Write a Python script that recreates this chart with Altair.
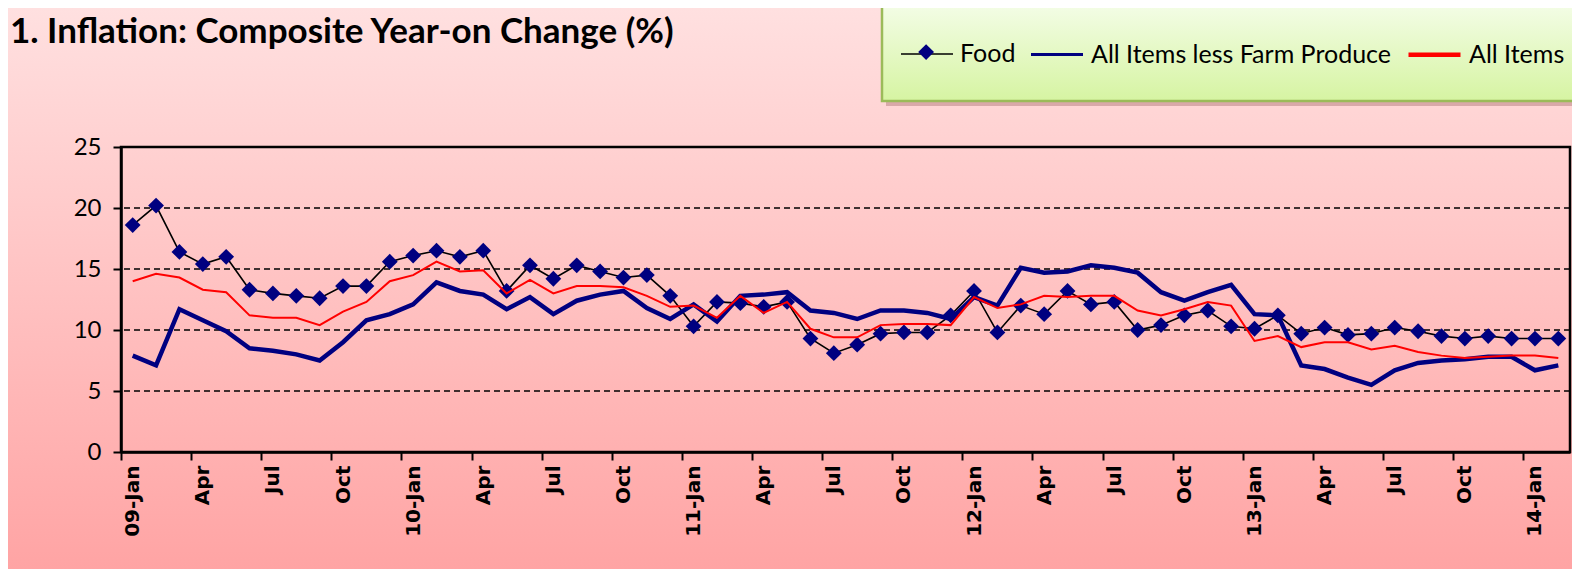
import altair as alt
import pandas as pd

# ---------------- data ----------------
years = ["09", "10", "11", "12", "13", "14"]
mon = ["Jan", "Feb", "Mar", "Apr", "May", "Jun", "Jul", "Aug", "Sep", "Oct", "Nov", "Dec"]
months = [f"{y}-{m}" for y in years for m in mon][:62]

series_names = ["Food", "All Items less Farm Produce", "All Items"]

food = [18.6, 20.2, 16.4, 15.4, 16.0, 13.3, 13.0, 12.8, 12.6, 13.6, 13.6, 15.6,
        16.1, 16.5, 16.0, 16.5, 13.2, 15.3, 14.2, 15.3, 14.8, 14.3, 14.5, 12.8,
        10.3, 12.3, 12.2, 11.9, 12.3, 9.3, 8.1, 8.8, 9.7, 9.8, 9.8, 11.2,
        13.2, 9.8, 12.0, 11.3, 13.2, 12.1, 12.3, 10.0, 10.4, 11.2, 11.6, 10.3,
        10.1, 11.2, 9.7, 10.2, 9.6, 9.7, 10.2, 9.9, 9.5, 9.3, 9.5, 9.3,
        9.3, 9.3]

less_farm = [7.9, 7.1, 11.7, 10.8, 9.9, 8.5, 8.3, 8.0, 7.5, 9.0, 10.8, 11.3,
             12.1, 13.9, 13.2, 12.9, 11.7, 12.7, 11.3, 12.4, 12.9, 13.2, 11.8, 10.9,
             12.1, 10.7, 12.8, 12.9, 13.1, 11.6, 11.4, 10.9, 11.6, 11.6, 11.4, 10.9,
             12.7, 12.0, 15.1, 14.7, 14.8, 15.3, 15.1, 14.7, 13.1, 12.4, 13.1, 13.7,
             11.3, 11.2, 7.1, 6.8, 6.1, 5.5, 6.7, 7.3, 7.5, 7.6, 7.8, 7.8,
             6.7, 7.1]

all_items = [14.0, 14.6, 14.3, 13.3, 13.1, 11.2, 11.0, 11.0, 10.4, 11.5, 12.3, 14.0,
             14.5, 15.6, 14.8, 14.9, 13.0, 14.1, 13.0, 13.6, 13.6, 13.5, 12.8, 11.9,
             12.0, 11.0, 12.8, 11.4, 12.3, 10.1, 9.4, 9.4, 10.4, 10.5, 10.5, 10.4,
             12.7, 11.8, 12.1, 12.8, 12.7, 12.8, 12.8, 11.6, 11.2, 11.7, 12.3, 12.0,
             9.1, 9.5, 8.6, 9.0, 9.0, 8.4, 8.7, 8.2, 7.9, 7.7, 7.8, 7.9,
             7.9, 7.7]

tick_labels = ["09-Jan", "Apr", "Jul", "Oct", "10-Jan", "Apr", "Jul", "Oct",
               "11-Jan", "Apr", "Jul", "Oct", "12-Jan", "Apr", "Jul", "Oct",
               "13-Jan", "Apr", "Jul", "Oct", "14-Jan"]
y_ticks = [0, 5, 10, 15, 20, 25]
grid_vals = [5, 10, 15, 20]

title_text = "1. Inflation: Composite Year-on Change (%)"

rows = []
for name, vals in zip(series_names, [food, less_farm, all_items]):
    for i, v in enumerate(vals):
        rows.append({"idx": i, "month": months[i], "value": v, "series": name})
df = pd.DataFrame(rows)

# ---------------- layout ----------------
PL, PT, PR, PB = 113, 139, 2, 117
W, H = 1449, 305
n = len(months)
band = W / n

LX, LY, LPAD, LSYM = 763, -137, 16, 52   # legend position (relative to plot) and sizes
DSIZE = 250                              # diamond marker area
DHALF = DSIZE ** 0.5 / 2

tick_vals = [-0.5 + 3 * k for k in range(len(tick_labels))]
label_expr = "[" + ",".join(f"'{t}'" for t in tick_labels) + "][round((datum.value + 0.5) / 3)]"

x_axis = alt.Axis(values=tick_vals, labelExpr=label_expr, labelAngle=270, labelAlign="right",
                  labelBaseline="middle", labelOffset=band / 2, labelFont="DejaVu Sans",
                  labelFontWeight="bold", labelFontSize=20, labelColor="black",
                  labelPadding=5, tickSize=8, tickWidth=2, tickColor="black",
                  domainWidth=2.5, domainColor="black", grid=False, title=None,
                  labelOverlap=False, labelFlush=False, zindex=1)
x_scale = alt.Scale(domain=[-0.5, n - 0.5], nice=False, zero=False)

y_axis = alt.Axis(values=y_ticks, grid=False, tickSize=8, tickWidth=2, tickColor="black",
                  domainWidth=2.5, domainColor="black", labelFont="Lato", labelFontSize=24,
                  labelColor="black", labelPadding=12, title=None, zindex=1)
y_scale = alt.Scale(domain=[0, 25], nice=False, zero=True)

color_scale = alt.Scale(domain=series_names, range=["#000000", "#000080", "#FF0000"])
width_scale = alt.Scale(domain=series_names, range=[1.6, 4.5, 2.0])

legend = alt.Legend(
    orient="none", legendX=LX, legendY=LY, direction="horizontal", title=None,
    labelFont="Lato", labelFontSize=25, labelColor="black", labelLimit=600,
    symbolSize=LSYM * LSYM, symbolType="stroke", labelOffset=6, columnPadding=8,
    padding=LPAD,
)

diamond_legend = alt.Legend(
    orient="none", legendX=LX + LPAD + LSYM / 2 - DHALF, legendY=LY + LPAD + LSYM / 2 - DHALF,
    title=None, labelExpr="''", symbolSize=DSIZE, symbolType="diamond",
    symbolFillColor="#000080", symbolStrokeColor="#000080", symbolStrokeWidth=0,
    padding=0, labelOffset=0, labelFontSize=1,
)

base = alt.Chart(df)


def series_line(name, width):
    return base.transform_filter(alt.datum.series == name).mark_line(strokeWidth=width).encode(
        x=alt.X("idx:Q", scale=x_scale, axis=x_axis),
        y=alt.Y("value:Q", scale=y_scale, axis=y_axis),
        color=alt.Color("series:N", scale=color_scale, legend=legend),
        strokeWidth=alt.StrokeWidth("series:N", scale=width_scale, legend=legend),
    )


bg = alt.Chart(alt.Data(values=[{}])).mark_rect(
    fill=alt.LinearGradient(gradient="linear", x1=0, x2=0, y1=0, y2=1,
                            stops=[alt.GradientStop(color="#FFE0E0", offset=0),
                                   alt.GradientStop(color="#FFA4A4", offset=1)])
).encode(x=alt.value(-PL), x2=alt.value(W + PR), y=alt.value(-PT), y2=alt.value(H + PB))

BOX_X, BOX_TOP, BOX_BOT = LX - 2, -145, -46

legend_shadow = alt.Chart(alt.Data(values=[{}])).mark_rect(
    fill="#B98585", opacity=0.55
).encode(x=alt.value(BOX_X + 4), x2=alt.value(W + PR + 10),
         y=alt.value(BOX_TOP + 4), y2=alt.value(BOX_BOT + 5))

legend_box = alt.Chart(alt.Data(values=[{}])).mark_rect(
    fill=alt.LinearGradient(gradient="linear", x1=0, x2=0, y1=0, y2=1,
                            stops=[alt.GradientStop(color="#F4FDE8", offset=0),
                                   alt.GradientStop(color="#D6F4A2", offset=1)]),
    stroke="#9BBB59", strokeWidth=2.5
).encode(x=alt.value(BOX_X), x2=alt.value(W + PR + 10),
         y=alt.value(BOX_TOP), y2=alt.value(BOX_BOT))

grid = alt.Chart(pd.DataFrame({"v": grid_vals})).mark_rule(
    color="black", strokeWidth=1.5, strokeDash=[6, 4]
).encode(y=alt.Y("v:Q", scale=y_scale, axis=y_axis))

frame = alt.Chart(alt.Data(values=[{}])).mark_rect(
    fill="transparent", stroke="black", strokeWidth=2.5
).encode(x=alt.value(0), x2=alt.value(W), y=alt.value(0), y2=alt.value(H))

food_line = series_line("Food", 1.6)
food_pts = base.transform_filter(alt.datum.series == "Food").mark_point(
    filled=True, size=DSIZE, color="#000080", opacity=1
).encode(
    x=alt.X("idx:Q", scale=x_scale, axis=x_axis),
    y=alt.Y("value:Q", scale=y_scale, axis=y_axis),
    shape=alt.Shape("series:N", scale=alt.Scale(domain=["Food"], range=["diamond"]),
                    legend=diamond_legend),
)
lf_line = series_line("All Items less Farm Produce", 4.5)
all_line = series_line("All Items", 2)

title = alt.Chart(alt.Data(values=[{}])).mark_text(
    align="left", baseline="alphabetic", font="Lato", fontSize=35, fontWeight="bold",
    color="black"
).encode(x=alt.value(-111), y=alt.value(-104), text=alt.value(title_text))

chart = alt.layer(bg, legend_shadow, legend_box, grid, frame, food_line, food_pts,
                  lf_line, all_line, title).properties(
    width=W, height=H,
    autosize=alt.AutoSizeParams(type="none"),
    padding={"left": PL, "top": PT, "right": PR, "bottom": PB},
).configure(background="#FFC4C4").configure_view(stroke="transparent")

chart.save("out.html", embed_options={"renderer": "svg", "actions": False})
